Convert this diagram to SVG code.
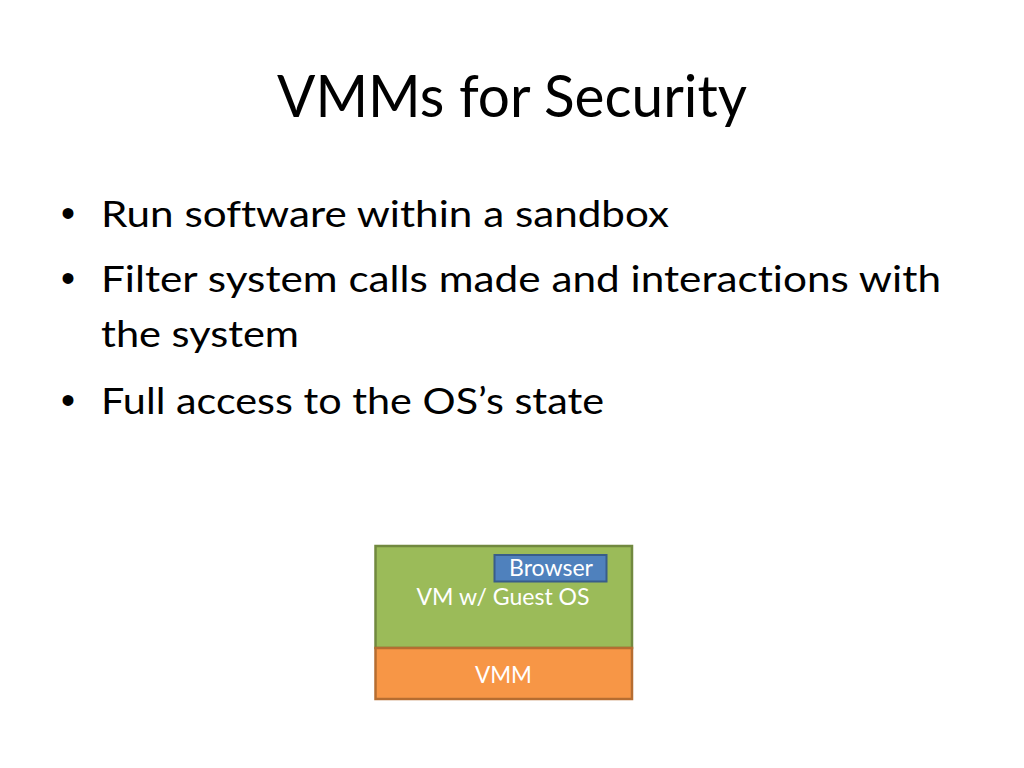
<svg xmlns="http://www.w3.org/2000/svg" width="1024" height="768" viewBox="0 0 1024 768">
<style>
.t{font-family:Lato,"Liberation Sans",sans-serif;fill:#000;font-variant-ligatures:none}
.b{font-family:"Liberation Sans",Arial,sans-serif;font-size:40px;fill:#000}
.w{font-family:Lato,"Liberation Sans",sans-serif;font-size:23px;fill:#fff;text-anchor:middle;font-variant-ligatures:none}
</style>
<rect width="1024" height="768" fill="#fff"/>
<g id="title">
<text class="t" x="277" y="117" font-size="59" textLength="470" lengthAdjust="spacingAndGlyphs">VMMs for Security</text>
</g>
<g id="bullets">
<text class="b" x="61" y="227">•</text>
<text class="t" x="101" y="227" font-size="36" textLength="568" lengthAdjust="spacingAndGlyphs">Run software within a sandbox</text>
<text class="b" x="61" y="292">•</text>
<text class="t" x="101" y="292" font-size="36" textLength="840" lengthAdjust="spacingAndGlyphs">Filter system calls made and interactions with</text>
<text class="t" x="101" y="347" font-size="36" textLength="198" lengthAdjust="spacingAndGlyphs">the system</text>
<text class="b" x="61" y="414">•</text>
<text class="t" x="101" y="414" font-size="36" textLength="503" lengthAdjust="spacingAndGlyphs">Full access to the OS’s state</text>
</g>
<g id="vm">
<rect x="375.5" y="546" width="256.5" height="102" fill="#9BBB59" stroke="#71893F" stroke-width="2.5"/>
<text class="w" x="503" y="605" textLength="173" lengthAdjust="spacingAndGlyphs">VM w/ Guest OS</text>
</g>
<g id="browser">
<rect x="494.5" y="555" width="112" height="26.5" fill="#4F81BD" stroke="#385D8A" stroke-width="2"/>
<text class="w" x="551" y="576" textLength="84" lengthAdjust="spacingAndGlyphs">Browser</text>
</g>
<g id="vmm">
<rect x="375.5" y="648" width="256.5" height="51" fill="#F79646" stroke="#B66D31" stroke-width="2.5"/>
<text class="w" x="503.5" y="683" textLength="57" lengthAdjust="spacingAndGlyphs">VMM</text>
</g>
<g id="connectors"></g>
</svg>
